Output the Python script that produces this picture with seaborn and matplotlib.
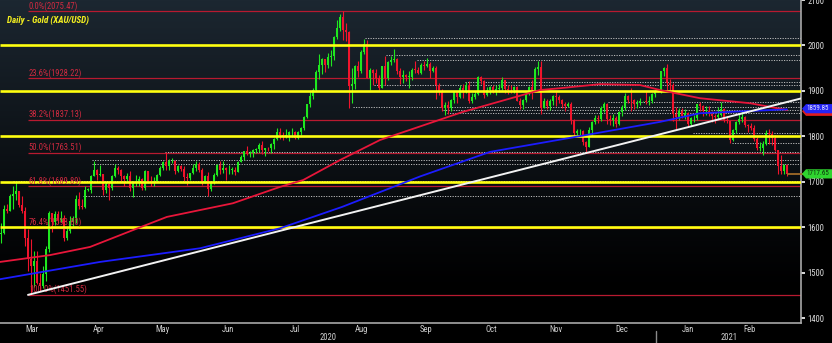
import numpy as np
import pandas as pd
import matplotlib
matplotlib.use("Agg")
import matplotlib.pyplot as plt
import matplotlib.transforms as mtransforms
from matplotlib.patches import Polygon
from matplotlib import font_manager as fm
import seaborn as sns

# ---------------- data ----------------
title = "Daily - Gold (XAU/USD)"
start_date = "2020-03-02"
first_open = 1585.0

closes = [
    1587, 1640, 1636, 1669, 1673, 1679, 1649, 1636, 1576, 1530, 1514, 1527, 1477, 1470, 1498, 1553, 1632, 1611, 1629, 1617, 1621, 1577,
    1591, 1613, 1620, 1662, 1648, 1645, 1683, 1683, 1713, 1727, 1716, 1717, 1683, 1695, 1686, 1713, 1730, 1726, 1713, 1707, 1714, 1686,
    1700, 1702, 1706, 1686, 1724, 1702, 1697, 1702, 1715, 1730, 1744, 1734, 1745, 1747, 1725, 1735, 1728, 1710, 1708, 1719, 1730,
    1740, 1727, 1700, 1714, 1685, 1698, 1715, 1738, 1727, 1730, 1726, 1727, 1727, 1722, 1744, 1755, 1768, 1762, 1763, 1771, 1772, 1781,
    1770, 1775, 1774, 1784, 1795, 1810, 1803, 1799, 1803, 1809, 1810, 1797, 1810, 1818, 1843, 1871, 1888, 1902, 1942, 1958, 1970, 1957, 1975,
    1976, 2019, 2039, 2062, 2035, 2029, 1911, 1915, 1954, 1944, 1985, 2003, 1929, 1947, 1940, 1929, 1907, 1954, 1929, 1964, 1968,
    1970, 1944, 1931, 1934, 1931, 1931, 1947, 1946, 1940, 1956, 1954, 1960, 1944, 1950, 1912, 1900, 1863, 1868, 1862, 1880, 1898, 1886,
    1906, 1900, 1913, 1877, 1887, 1894, 1930, 1922, 1891, 1902, 1908, 1899, 1905, 1907, 1924, 1904, 1902, 1901, 1908, 1878, 1868, 1879,
    1894, 1909, 1903, 1948, 1952, 1862, 1877, 1866, 1877, 1888, 1887, 1880, 1871, 1866, 1871, 1837, 1807, 1811, 1812, 1788, 1777,
    1815, 1831, 1841, 1839, 1862, 1871, 1839, 1836, 1840, 1827, 1854, 1864, 1888, 1881, 1879, 1871, 1874, 1877, 1877, 1876, 1877, 1893, 1898,
    1898, 1943, 1950, 1918, 1913, 1849, 1843, 1855, 1845, 1851, 1828, 1840, 1840, 1871, 1866, 1856, 1856, 1850, 1844, 1842, 1848,
    1860, 1836, 1834, 1793, 1814, 1832, 1838, 1842, 1825, 1824, 1819, 1794, 1775, 1775, 1784, 1808, 1805, 1797, 1770, 1734,
    1723, 1738, 1717.65,
]
highs = [
    1610, 1649, 1652, 1674, 1692, 1703, 1680, 1668, 1645, 1596, 1575, 1548, 1547, 1499, 1514, 1560, 1635, 1632, 1637, 1635, 1637, 1627,
    1601, 1626, 1626, 1671, 1677, 1662, 1690, 1686, 1715, 1747, 1728, 1738, 1712, 1700, 1699, 1716, 1739, 1736, 1728, 1716, 1719, 1723,
    1702, 1715, 1712, 1709, 1726, 1722, 1714, 1710, 1718, 1736, 1746, 1765, 1750, 1753, 1748, 1737, 1738, 1735, 1719, 1720, 1740,
    1745, 1744, 1730, 1716, 1722, 1701, 1720, 1740, 1745, 1745, 1733, 1737, 1732, 1733, 1745, 1760, 1769, 1779, 1768, 1772, 1775, 1786,
    1789, 1775, 1776, 1786, 1796, 1818, 1818, 1809, 1817, 1812, 1818, 1813, 1812, 1821, 1844, 1872, 1898, 1906, 1945, 1981, 1973, 1971, 1984,
    1989, 2020, 2055, 2069, 2075.47, 2049, 2032, 1950, 1958, 1966, 1989, 2015, 2011, 1950, 1948, 1948, 1934, 1955, 1976, 1965, 1976,
    1992, 1973, 1951, 1947, 1937, 1944, 1951, 1966, 1953, 1961, 1966, 1973, 1963, 1955, 1955, 1917, 1904, 1875, 1877, 1883, 1900, 1900,
    1913, 1916, 1920, 1921, 1896, 1899, 1933, 1932, 1923, 1908, 1911, 1913, 1912, 1916, 1931, 1925, 1912, 1912, 1911, 1911, 1884, 1882,
    1896, 1911, 1924, 1952, 1965, 1965, 1884, 1883, 1882, 1892, 1900, 1891, 1883, 1875, 1876, 1876, 1839, 1817, 1816, 1814, 1789,
    1820, 1833, 1848, 1848, 1866, 1875, 1874, 1848, 1849, 1845, 1857, 1869, 1896, 1891, 1906, 1883, 1880, 1884, 1878, 1900, 1888, 1896, 1901,
    1899, 1944, 1952, 1959, 1926, 1917, 1864, 1862, 1863, 1860, 1854, 1843, 1848, 1872, 1875, 1870, 1867, 1867, 1857, 1849, 1865,
    1875, 1862, 1845, 1835, 1817, 1835, 1849, 1855, 1844, 1828, 1829, 1825, 1799, 1787, 1790, 1815, 1816, 1811, 1803, 1771,
    1760, 1740, 1740,
]
lows = [
    1565, 1586, 1632, 1636, 1641, 1660, 1644, 1632, 1560, 1504, 1451.55, 1468, 1475, 1461, 1466, 1482, 1545, 1590, 1606, 1610, 1611, 1570,
    1572, 1588, 1604, 1610, 1641, 1640, 1642, 1679, 1676, 1712, 1704, 1713, 1672, 1676, 1660, 1683, 1711, 1718, 1699, 1692, 1703, 1681,
    1666, 1690, 1692, 1683, 1683, 1697, 1692, 1692, 1700, 1712, 1727, 1726, 1727, 1742, 1718, 1722, 1723, 1703, 1694, 1704, 1717,
    1724, 1721, 1693, 1697, 1670, 1680, 1695, 1713, 1717, 1720, 1705, 1717, 1718, 1715, 1721, 1743, 1749, 1759, 1755, 1755, 1764, 1766,
    1762, 1757, 1767, 1763, 1772, 1793, 1795, 1793, 1797, 1791, 1799, 1795, 1794, 1804, 1815, 1840, 1864, 1883, 1900, 1927, 1938, 1942, 1950,
    1955, 1969, 2015, 2031, 2013, 2009, 1863, 1874, 1904, 1930, 1940, 1981, 1929, 1902, 1913, 1917, 1902, 1910, 1913, 1925, 1958,
    1963, 1937, 1916, 1917, 1922, 1906, 1925, 1940, 1937, 1937, 1947, 1952, 1928, 1941, 1882, 1892, 1855, 1848, 1849, 1855, 1873, 1873,
    1885, 1884, 1896, 1874, 1874, 1882, 1891, 1916, 1884, 1889, 1893, 1896, 1892, 1897, 1903, 1895, 1893, 1896, 1896, 1877, 1860, 1860,
    1875, 1890, 1882, 1897, 1935, 1850, 1862, 1860, 1858, 1870, 1866, 1873, 1863, 1856, 1864, 1828, 1800, 1800, 1802, 1781, 1764,
    1776, 1803, 1828, 1830, 1833, 1853, 1828, 1826, 1824, 1820, 1826, 1846, 1859, 1873, 1855, 1860, 1862, 1870, 1876, 1871, 1870, 1873, 1886,
    1897, 1895, 1933, 1901, 1903, 1835, 1817, 1837, 1840, 1838, 1820, 1824, 1832, 1837, 1856, 1844, 1847, 1845, 1831, 1830, 1838,
    1845, 1832, 1830, 1785, 1791, 1808, 1828, 1832, 1821, 1809, 1815, 1790, 1770, 1767, 1760, 1782, 1783, 1782, 1768, 1717,
    1718, 1717, 1712,
]

# moving averages (trading-day position, value)
ma100_pos = [-0.33, 16.3, 29.7, 44, 55.3, 77.3, 93, 100.7, 113, 126.3, 154, 166.3, 179.7, 186.3, 199.7, 213, 219.7, 233, 249.7, 262]
ma100_val = [1524, 1539, 1557, 1594, 1623, 1653, 1689, 1704, 1748, 1792, 1854, 1877, 1902, 1906, 1915, 1913, 1902, 1884, 1873, 1858]
ma200_pos = [-0.33, 33, 66.3, 93, 113.7, 139.7, 163, 190.7, 219.7, 233, 249.7, 262]
ma200_val = [1486, 1524, 1554, 1598, 1645, 1712, 1766, 1798, 1832, 1851, 1856, 1859.5]

# trend line (from the March low)
trend_pos = [9.0, 266.67]
trend_val = [1451.55, 1883.5]

# Fibonacci retracement
fib_pct = ["0.0%", "23.6%", "38.2%", "50.0%", "61.8%", "76.4%", "100.0%"]
fib_lvl = [2075.47, 1928.22, 1837.13, 1763.51, 1689.89, 1598.80, 1451.55]
fib_start = 9.0

# round-number levels
yellow_lvl = [1600, 1700, 1800, 1900, 2000]

# dotted support / resistance levels and their start positions
dot_lvl = [2017, 1979, 1968, 1920, 1913, 1876, 1863.7, 1857.8, 1850.5, 1806.6, 1784.6, 1765, 1748, 1739, 1702, 1669.5]
dot_start = [121.3, 128.3, 138.7, 154.7, 124.3, 202.3, 117.3, 147.3, 148.7, 230.7, 243.7, 54.7, 30.3, 30.3, 4.0, 27.3]

ytick_vals = [1400, 1500, 1600, 1700, 1800, 1900, 2000, 2100]
ytick_labels = ["1400", "1500", "1600", "1700", "1800", "1900", "2000", "2100"]
month_labels = ["Mar", "Apr", "May", "Jun", "Jul", "Aug", "Sep", "Oct", "Nov", "Dec", "Jan", "Feb"]
year_labels = ["2020", "2021"]

tag_ma_text = "1859.85"
tag_ma_val = 1861.0
last_price = 1717.65

# ---------------- style ----------------
sns.set_style("dark")
avail = {f.name for f in fm.fontManager.ttflist}
narrow = next((f for f in ["Liberation Sans Narrow", "DejaVu Sans Condensed", "Roboto Condensed",
                           "Liberation Sans"] if f in avail), "DejaVu Sans")
plt.rcParams["font.family"] = [narrow, "DejaVu Sans"]

GREEN = "#1fe81f"
RED = "#f0142c"
FIBC = "#b81a30"

dates = pd.bdate_range(start_date, periods=len(closes))
idx = np.arange(len(closes))
c = np.array(closes, float)
o = np.concatenate([[first_open], c[:-1]])
h = np.maximum(np.array(highs, float), np.maximum(o, c))
l = np.minimum(np.array(lows, float), np.minimum(o, c))

W, H, DPI = 832, 343, 100
fig = plt.figure(figsize=(W / DPI, H / DPI), dpi=DPI, facecolor="black")
rect = [0, 20 / H, 801 / W, 323 / H]

# gradient background
bg = fig.add_axes(rect, zorder=0)
top = np.array([28, 39, 49]) / 255
t = np.linspace(0, 1, 256)[:, None]
fac = np.clip(1 - t / 0.9, 0, 1) ** 1.1
grad = fac[..., None] * top[None, None, :]
bg.imshow(grad, aspect="auto", origin="upper", extent=[0, 1, 0, 1])
bg.set_axis_off()

ax = fig.add_axes(rect, zorder=1)
ax.set_facecolor("none")
XMIN, XMAX = -0.33, 266.67
ax.set_xlim(XMIN, XMAX)
ax.set_ylim(1389.7, 2099.8)

# Fibonacci lines and labels
ax.hlines(fib_lvl, fib_start, XMAX, colors=FIBC, lw=0.9, zorder=1)
for p, v in zip(fib_pct, fib_lvl):
    ax.text(fib_start + 0.3, v + 1.2, f"{p}({v:.2f})", color="#d02a40", fontsize=6.2,
            va="bottom", ha="left", zorder=6)

# dotted levels
for v, s in zip(dot_lvl, dot_start):
    ax.hlines(v, s, XMAX, colors="#bdbdbd", lw=0.7, linestyles=(0, (1.2, 1.4)), zorder=1)

# candles
cols = np.where(c >= o, GREEN, RED)
ax.vlines(idx, l, h, colors=cols, lw=0.8, zorder=3)
ax.bar(idx, np.maximum(np.abs(c - o), 1.2), bottom=np.minimum(o, c), width=0.68,
       color=cols, linewidth=0, zorder=3)

# yellow round levels
ax.hlines(yellow_lvl, XMIN, XMAX, colors="#ffff10", lw=1.9, zorder=4)

# moving averages and trend line
sns.lineplot(x=ma100_pos, y=ma100_val, ax=ax, color="#e8163a", lw=1.3, sort=False, zorder=5)
sns.lineplot(x=ma200_pos, y=ma200_val, ax=ax, color="#1c1cff", lw=1.3, sort=False, zorder=5)
sns.lineplot(x=trend_pos, y=trend_val, ax=ax, color="#f2f2f2", lw=1.4, sort=False, zorder=6)

# last price line
ax.hlines(last_price, idx[-1], XMAX + 0.6, colors="#a06a28", lw=1.3, zorder=6, clip_on=False)

# axes cosmetics
for s in ["left", "top"]:
    ax.spines[s].set_visible(False)
for s in ["right", "bottom"]:
    ax.spines[s].set_visible(True)
    ax.spines[s].set_color("#a8a8a8")
    ax.spines[s].set_linewidth(1.2)
ax.grid(False)
ax.yaxis.tick_right()
ax.set_yticks(ytick_vals)
ax.set_yticklabels(ytick_labels)
ax.tick_params(axis="y", colors="white", labelcolor="#dcdcdc", labelsize=6.2, length=3,
               width=1.2, pad=1.5, direction="out")

month_id = dates.year * 12 + dates.month
bounds = [i - 0.5 for i in range(1, len(dates)) if month_id[i] != month_id[i - 1]]
ax.set_xticks(bounds)
ax.set_xticklabels([])
ax.tick_params(axis="x", colors="#c0c0c0", length=2, width=1, direction="out")

tr_fig = mtransforms.blended_transform_factory(ax.transData, fig.transFigure)
uniq = list(dict.fromkeys(month_id))
for lab, m in zip(month_labels, uniq):
    pos = idx[month_id == m]
    ax.text(pos.mean(), (H - 329) / H, lab, transform=tr_fig, ha="center", va="center",
            color="#cfcfcf", fontsize=6.2, clip_on=False)

yr_start = [i for i in range(1, len(dates)) if dates.year[i] != dates.year[i - 1]][0] - 0.5
ax.text((XMIN + yr_start) / 2, (H - 337) / H, year_labels[0], transform=tr_fig, ha="center",
        va="center", color="#cfcfcf", fontsize=6.2, clip_on=False)
ax.text((yr_start + XMAX) / 2, (H - 337) / H, year_labels[1], transform=tr_fig, ha="center",
        va="center", color="#cfcfcf", fontsize=6.2, clip_on=False)
ax.plot([yr_start, yr_start], [(H - 331) / H, 0], transform=tr_fig, color="#8a8a8a", lw=1,
        clip_on=False)

# title
ax.text(7 / 801, 1 - 20 / 323, title, transform=ax.transAxes, color="#f4f020", fontsize=6.6,
        fontweight="bold", style="italic", va="center", ha="left", zorder=7)

# price tags on the right
tag_tr = mtransforms.blended_transform_factory(ax.transAxes, ax.transData)
ppu = 323 / (2099.8 - 1389.7)


def tag(val, face, zo):
    hh = 4.6 / ppu
    x0, x1, x2 = 802 / 801, 806 / 801, 834 / 801
    poly = Polygon([[x0, val], [x1, val + hh], [x2, val + hh], [x2, val - hh], [x1, val - hh]],
                   closed=True, transform=tag_tr, facecolor=face, edgecolor="none",
                   clip_on=False, zorder=zo)
    ax.add_patch(poly)


tag(tag_ma_val - 2.6 / ppu, "#e01c1c", 8)
tag(tag_ma_val, "#2424f4", 9)
ax.text(806 / 801, tag_ma_val, tag_ma_text, transform=tag_tr, color="#e8e8ff", fontsize=5.0,
        va="center", ha="left", zorder=10, clip_on=False)
tag(last_price, "#2fd42f", 9)
ax.text(806 / 801, last_price, f"{last_price:.2f}", transform=tag_tr, color="#0c300c",
        fontsize=5.0, va="center", ha="left", zorder=10, clip_on=False)

fig.savefig("out.png", dpi=DPI, facecolor="black")
